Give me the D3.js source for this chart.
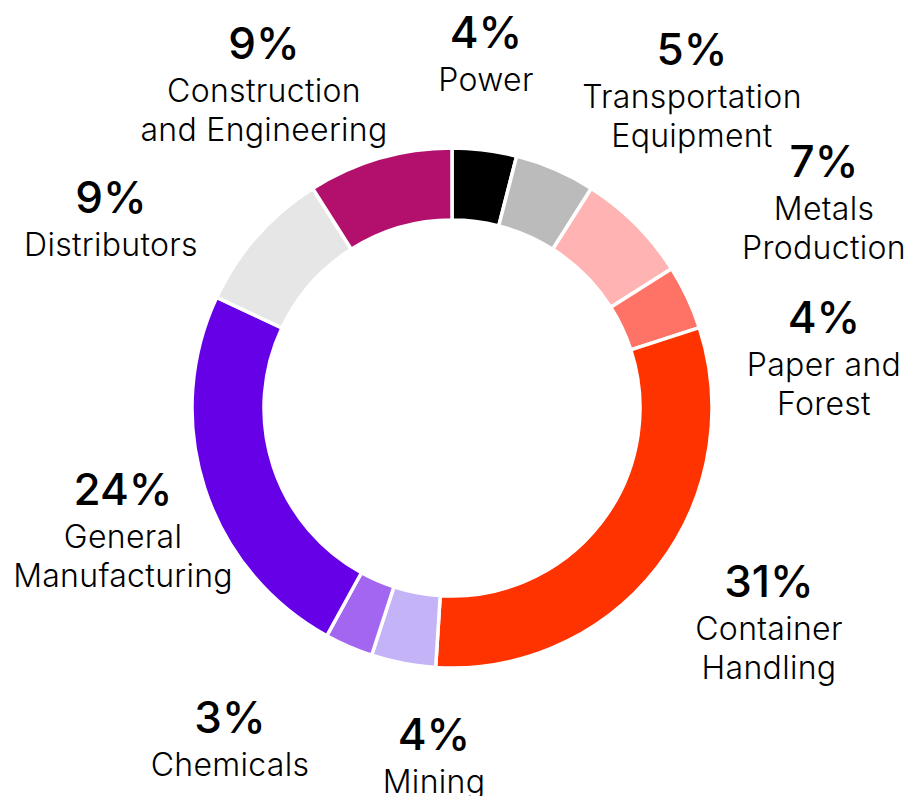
<!DOCTYPE html>
<html>
<head>
<meta charset="utf-8">
<script src="https://cdn.jsdelivr.net/npm/d3@7"></script>
<style>
	html, body { margin: 0; padding: 0; background: #fff; }
	svg { display: block; }
	text { font-family: Inter, 'Noto Sans', sans-serif; fill: #000; }
</style>
</head>
<body>
<svg id="chart"></svg>
<script>
// sectors, clockwise from 12 o'clock
const sectors = ['Power', 'Transportation Equipment', 'Metals Production', 'Paper and Forest',
	'Container Handling', 'Mining', 'Chemicals', 'General Manufacturing', 'Distributors',
	'Construction and Engineering']
const shares = [4, 5, 7, 4, 31, 4, 3, 24, 9, 9]
const labelLines = [['Power'], ['Transportation', 'Equipment'], ['Metals', 'Production'],
	['Paper and', 'Forest'], ['Container', 'Handling'], ['Mining'], ['Chemicals'],
	['General', 'Manufacturing'], ['Distributors'], ['Construction', 'and Engineering']]
const colors = ['#000000', '#bbbbbb', '#ffb3b3', '#ff7266', '#ff3300', '#c5b3f8', '#a366f0',
	'#6600e6', '#e6e6e6', '#b3106e']

// where each label block sits (centre x, baseline of the % line)
const labelPos = [[486, 48], [692, 65], [824, 177], [824, 333], [769, 597], [434, 750],
	[230, 733], [123, 505], [111, 213], [264, 59]]

const W = 913, H = 796
const cx = 452, cy = 408
const outerR = 260, innerR = 188

const svg = d3.select('#chart')
	.attr('width', W)
	.attr('height', H)

const data = sectors.map((s, i) => ({ sector: s, value: shares[i], lines: labelLines[i], color: colors[i], pos: labelPos[i] }))

const pie = d3.pie()
	.value(d => d.value)
	.sort(null)

const arc = d3.arc()
	.innerRadius(innerR)
	.outerRadius(outerR)

svg.append('g')
	.attr('transform', `translate(${cx},${cy})`)
	.selectAll('path')
	.data(pie(data))
	.join('path')
	.attr('d', arc)
	.attr('fill', d => d.data.color)
	.attr('stroke', '#fff')
	.attr('stroke-width', 3.5)

const labels = svg.append('g')
	.selectAll('g')
	.data(data)
	.join('g')
	.attr('transform', d => `translate(${d.pos[0]},${d.pos[1]})`)

labels.append('text')
	.attr('text-anchor', 'middle')
	.attr('font-size', 44)
	.attr('font-weight', 500)
	.text(d => d.value + '%')

labels.each(function (d) {
	d3.select(this).selectAll('text.line')
		.data(d.lines)
		.join('text')
		.attr('class', 'line')
		.attr('text-anchor', 'middle')
		.attr('font-size', 32)
		.attr('font-weight', 300)
		.attr('letter-spacing', 0.3)
		.attr('y', (l, i) => 43 + i * 39)
		.text(l => l)
})
</script>
</body>
</html>
